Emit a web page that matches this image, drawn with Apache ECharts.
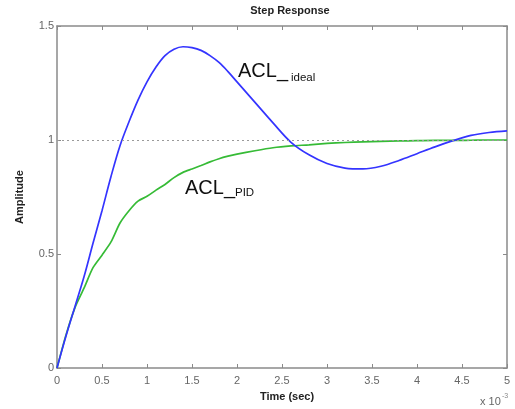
<!DOCTYPE html>
<html>
<head>
<meta charset="utf-8">
<script src="https://cdn.jsdelivr.net/npm/echarts@6/dist/echarts.min.js"></script>
<style>
html,body{margin:0;padding:0;background:#fff;}
#chart{width:515px;height:409px;}
</style>
</head>
<body>
<div id="chart"></div>
<script>
// Time in units of 1e-3 s
const time = [0,0.1,0.2,0.3,0.4,0.5,0.6,0.7,0.8,0.9,1.0,1.1,1.2,1.3,1.4,1.5,1.6,1.7,1.8,1.9,2.0,2.2,2.4,2.6,2.8,3.0,3.2,3.4,3.6,3.8,4.0,4.2,4.4,4.6,4.8,5.0];
const aclIdeal = [0,0.14,0.27,0.40,0.547,0.69,0.84,0.975,1.08,1.175,1.255,1.32,1.37,1.398,1.409,1.405,1.393,1.37,1.34,1.30,1.255,1.165,1.075,0.99,0.935,0.897,0.877,0.873,0.885,0.91,0.94,0.97,0.997,1.02,1.033,1.04];
const aclPid = [0,0.145,0.265,0.35,0.44,0.495,0.553,0.636,0.69,0.732,0.753,0.78,0.805,0.835,0.858,0.873,0.888,0.904,0.918,0.929,0.938,0.953,0.966,0.974,0.979,0.985,0.989,0.992,0.994,0.996,0.997,0.998,0.998,0.999,1.0,1.0];
const xTickLabels = ['0','0.5','1','1.5','2','2.5','3','3.5','4','4.5','5'];
const yTickLabels = ['0','0.5','1','1.5'];
const referenceLevel = 1;

const FONT = '"Liberation Sans", Arial, sans-serif';
const axisColor = '#8a8a8a';

const chart = echarts.init(document.getElementById('chart'), null, {renderer:'canvas'});

const baseX = {
  type:'value', min:0, max:5, interval:0.5,
  axisLine:{show:true, onZero:false, lineStyle:{color:axisColor, width:1.5}},
  axisTick:{show:true, inside:true, length:4, lineStyle:{color:axisColor, width:1}},
  splitLine:{show:false}
};
const baseY = {
  type:'value', min:0, max:1.5, interval:0.5,
  axisLine:{show:true, onZero:false, lineStyle:{color:axisColor, width:1.5}},
  axisTick:{show:true, inside:true, length:4, lineStyle:{color:axisColor, width:1}},
  splitLine:{show:false}
};

chart.setOption({
  animation:false,
  backgroundColor:'#fff',
  grid:{left:57, right:8, top:26, bottom:41, containLabel:false},
  xAxis:[
    Object.assign({}, baseX, {position:'bottom',
      axisLabel:{show:true, margin:7, color:'#666', fontSize:11, fontFamily:FONT,
        formatter:(v)=>xTickLabels[Math.round(v/0.5)]}}),
    Object.assign({}, baseX, {position:'top', axisLabel:{show:false}})
  ],
  yAxis:[
    Object.assign({}, baseY, {position:'left',
      axisLabel:{show:true, margin:3, color:'#666', fontSize:11, fontFamily:FONT,
        formatter:(v)=>yTickLabels[Math.round(v/0.5)]}}),
    Object.assign({}, baseY, {position:'right', axisLabel:{show:false}})
  ],
  series:[
    {
      name:'ACL_ideal', type:'line', xAxisIndex:0, yAxisIndex:0,
      data: time.map((t,i)=>[t, aclIdeal[i]]),
      showSymbol:false, smooth:0.35,
      lineStyle:{color:'#3434ff', width:1.7}, z:3
    },
    {
      name:'ACL_PID', type:'line', xAxisIndex:0, yAxisIndex:0,
      data: time.map((t,i)=>[t, aclPid[i]]),
      showSymbol:false, smooth:0.25,
      lineStyle:{color:'#36bb36', width:1.7}, z:2,
      markLine:{
        silent:true, symbol:['none','none'], label:{show:false},
        lineStyle:{color:'#9a9a9a', type:[2,3], width:1},
        data:[{yAxis:referenceLevel}]
      }
    }
  ],
  graphic:[
    {type:'text', x:290, y:11, style:{text:'Step Response', fontFamily:FONT, fontSize:11, fontWeight:'bold', fill:'#222', align:'center', verticalAlign:'middle'}},
    {type:'text', x:287, y:397, style:{text:'Time (sec)', fontFamily:FONT, fontSize:11, fontWeight:'bold', fill:'#222', align:'center', verticalAlign:'middle'}},
    {type:'text', x:20, y:197, rotation:Math.PI/2, style:{text:'Amplitude', fontFamily:FONT, fontSize:11, fontWeight:'bold', fill:'#222', align:'center', verticalAlign:'middle'}},
    {type:'text', x:480, y:402, style:{text:'x 10', fontFamily:FONT, fontSize:11, fill:'#666', align:'left', verticalAlign:'middle'}},
    {type:'text', x:502, y:396, style:{text:'-3', fontFamily:FONT, fontSize:7, fill:'#888', align:'left', verticalAlign:'middle'}},
    {type:'text', x:238, y:71, style:{text:'ACL_', fontFamily:FONT, fontSize:20, fill:'#111', align:'left', verticalAlign:'middle'}},
    {type:'text', x:291, y:77.6, style:{text:'ideal', fontFamily:FONT, fontSize:11.5, fill:'#111', align:'left', verticalAlign:'middle'}},
    {type:'text', x:185, y:188.5, style:{text:'ACL_', fontFamily:FONT, fontSize:20, fill:'#111', align:'left', verticalAlign:'middle'}},
    {type:'text', x:235, y:192.5, style:{text:'PID', fontFamily:FONT, fontSize:11.5, fill:'#111', align:'left', verticalAlign:'middle'}}
  ]
});
</script>
</body>
</html>
